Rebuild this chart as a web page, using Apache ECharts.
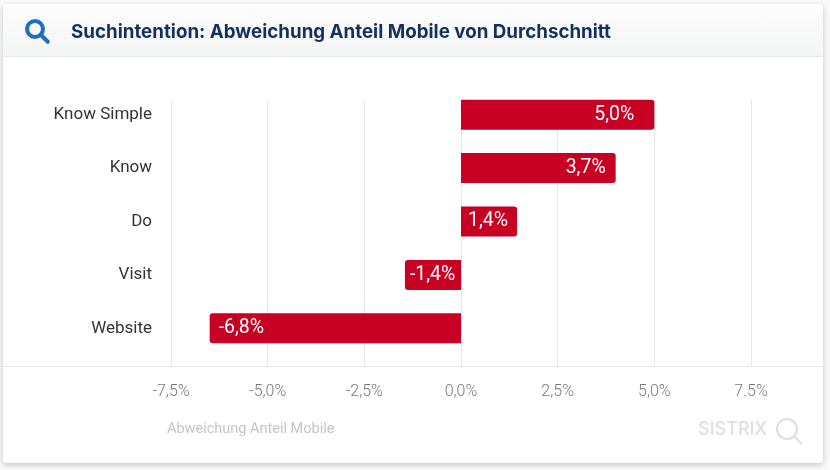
<!DOCTYPE html>
<html>
<head>
<meta charset="utf-8">
<title>Suchintention</title>
<style>
    html, body { margin: 0; padding: 0; background: #fafafa; }
    #card { position: absolute; left: 3px; top: 4px; width: 820px; height: 459px; background: #fff; border-radius: 3px;
            box-shadow: 0 2px 6px rgba(0,0,0,.22); }
    #head { height: 52px; border-bottom: 1px solid #e6e6e6; background: linear-gradient(#fdfdfd, #f3f4f4); border-radius: 3px 3px 0 0; }
    #main { position: absolute; left: 0; top: 0; width: 830px; height: 470px; }
</style>
</head>
<body>
<div id="card"><div id="head"></div></div>
<div id="main"></div>
<script src="https://cdn.jsdelivr.net/npm/echarts@6/dist/echarts.min.js"></script>
<script>
    var categories = ['Know Simple', 'Know', 'Do', 'Visit', 'Website'];
    // bar lengths as drawn in the picture, the printed labels differ a little
    var barValues = [5.0, 4.0, 1.45, -1.45, -6.5];
    var barLabels = ['5,0%', '3,7%', '1,4%', '-1,4%', '-6,8%'];
    var tickValues = [-7.5, -5, -2.5, 0, 2.5, 5, 7.5];
    var tickLabels = ['-7,5%', '-5,0%', '-2,5%', '0,0%', '2,5%', '5,0%', '7.5%'];
    var labelInset = [20, 10, 9, 5, 9];

    var font = 'Roboto';
    var myChart = echarts.init(document.getElementById('main'));

    function magnifier(cx, cy, r, w, color, len) {
        return [
            { type: 'circle', shape: { cx: cx, cy: cy, r: r }, style: { fill: 'none', stroke: color, lineWidth: w } },
            { type: 'line', shape: { x1: cx + r * 0.72, y1: cy + r * 0.72, x2: cx + r * 0.72 + len, y2: cy + r * 0.72 + len },
              style: { stroke: color, lineWidth: w, lineCap: 'round' } }
        ];
    }

    var option = {
        animation: false,
        title: {
            text: 'Suchintention: Abweichung Anteil Mobile von Durchschnitt',
            left: 66, top: 18,
            textStyle: { fontFamily: 'Inter', fontSize: 18.75, fontWeight: 700, color: '#14305e' }
        },
        grid: [
            { left: 171, right: 79, top: 100, height: 266 },
            { left: 171, right: 79, top: 88, height: 267 }
        ],
        xAxis: [
            {
                gridIndex: 0, type: 'value', min: -7.5, max: 7.5, interval: 2.5,
                axisLine: { show: false }, axisTick: { show: false },
                splitLine: { show: true, lineStyle: { color: '#e6e6e6', width: 1 } },
                axisLabel: {
                    margin: 18, fontFamily: font, fontSize: 16, fontWeight: 300, color: '#777',
                    formatter: function (v) { return tickLabels[tickValues.indexOf(v)]; }
                }
            },
            { gridIndex: 1, type: 'value', min: -7.5, max: 7.5, show: false }
        ],
        yAxis: [
            { gridIndex: 0, type: 'value', show: false, splitLine: { show: false } },
            {
                gridIndex: 1, type: 'category', data: categories, inverse: true,
                axisLine: { show: false }, axisTick: { show: false }, splitLine: { show: false },
                axisLabel: { margin: 19, fontFamily: font, fontSize: 17, color: '#333' }
            }
        ],
        series: [{
            type: 'bar',
            xAxisIndex: 1, yAxisIndex: 1,
            barWidth: 30,
            data: barValues.map(function (v, i) {
                return {
                    value: v,
                    itemStyle: { borderRadius: v > 0 ? [0, 3, 3, 0] : [3, 0, 0, 3] },
                    label: { position: v > 0 ? 'insideRight' : 'insideLeft', distance: labelInset[i] }
                };
            }),
            itemStyle: { color: '#c70024' },
            label: {
                show: true, fontFamily: font, fontSize: 19.5, color: '#fff',
                formatter: function (p) { return barLabels[p.dataIndex]; }
            }
        }],
        graphic: [
            { type: 'line', shape: { x1: 3, y1: 366.5, x2: 823, y2: 366.5 }, style: { stroke: '#e6e6e6', lineWidth: 1 } },
            { type: 'text', x: 167, y: 422, style: { text: 'Abweichung Anteil Mobile', font: '14.5px Roboto', fill: '#c4c4c4' } },
            { type: 'text', x: 698, y: 421, style: { text: 'SISTRIX', font: '500 18px Inter', fill: '#dedede' } }
        ].concat(magnifier(35, 29, 8, 4, '#1f6fc0', 7)).concat(magnifier(787, 429, 10, 2, '#dedede', 7))
    };
    myChart.setOption(option);
</script>
</body>
</html>
